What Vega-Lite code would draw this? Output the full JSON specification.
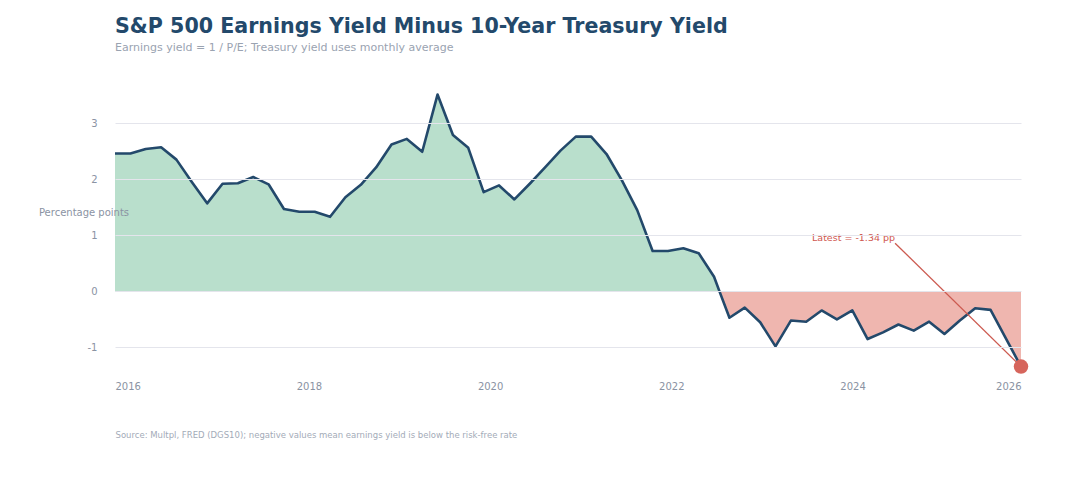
{
  "$schema": "https://vega.github.io/schema/vega-lite/v6.json",
  "width": 906,
  "height": 300,
  "autosize": {"type": "none"},
  "padding": {"left": 115, "top": 80, "right": 60, "bottom": 112},
  "background": "white",
  "title": {
    "text": "S&P 500 Earnings Yield Minus 10-Year Treasury Yield",
    "subtitle": "Earnings yield = 1 / P/E; Treasury yield uses monthly average",
    "anchor": "start",
    "frame": "group",
    "font": "DejaVu Sans",
    "fontSize": 20.6,
    "fontWeight": "bold",
    "color": "#23496b",
    "subtitleFont": "DejaVu Sans",
    "subtitleFontSize": 11,
    "subtitleColor": "#9aa3b1",
    "subtitlePadding": 4,
    "offset": 27
  },
  "datasets": {
    "series": [
      {"year": 2016.000, "spread": 2.46},
      {"year": 2016.170, "spread": 2.46},
      {"year": 2016.339, "spread": 2.54},
      {"year": 2016.509, "spread": 2.57},
      {"year": 2016.678, "spread": 2.35},
      {"year": 2016.848, "spread": 1.95},
      {"year": 2017.017, "spread": 1.57},
      {"year": 2017.187, "spread": 1.92},
      {"year": 2017.356, "spread": 1.93},
      {"year": 2017.526, "spread": 2.04},
      {"year": 2017.695, "spread": 1.91},
      {"year": 2017.865, "spread": 1.47},
      {"year": 2018.034, "spread": 1.42},
      {"year": 2018.204, "spread": 1.42},
      {"year": 2018.374, "spread": 1.33},
      {"year": 2018.543, "spread": 1.68},
      {"year": 2018.713, "spread": 1.90},
      {"year": 2018.882, "spread": 2.21},
      {"year": 2019.052, "spread": 2.62},
      {"year": 2019.221, "spread": 2.72},
      {"year": 2019.391, "spread": 2.49},
      {"year": 2019.560, "spread": 3.51},
      {"year": 2019.730, "spread": 2.79},
      {"year": 2019.899, "spread": 2.56},
      {"year": 2020.069, "spread": 1.77},
      {"year": 2020.239, "spread": 1.89},
      {"year": 2020.408, "spread": 1.64},
      {"year": 2020.578, "spread": 1.92},
      {"year": 2020.747, "spread": 2.21},
      {"year": 2020.917, "spread": 2.51},
      {"year": 2021.086, "spread": 2.76},
      {"year": 2021.256, "spread": 2.76},
      {"year": 2021.425, "spread": 2.45},
      {"year": 2021.595, "spread": 1.98},
      {"year": 2021.764, "spread": 1.45},
      {"year": 2021.934, "spread": 0.72},
      {"year": 2022.103, "spread": 0.72},
      {"year": 2022.273, "spread": 0.77},
      {"year": 2022.443, "spread": 0.68},
      {"year": 2022.612, "spread": 0.26},
      {"year": 2022.672, "spread": 0.00},
      {"year": 2022.782, "spread": -0.47},
      {"year": 2022.951, "spread": -0.29},
      {"year": 2023.121, "spread": -0.55},
      {"year": 2023.290, "spread": -0.98},
      {"year": 2023.460, "spread": -0.52},
      {"year": 2023.629, "spread": -0.54},
      {"year": 2023.799, "spread": -0.34},
      {"year": 2023.968, "spread": -0.50},
      {"year": 2024.138, "spread": -0.34},
      {"year": 2024.307, "spread": -0.85},
      {"year": 2024.477, "spread": -0.73},
      {"year": 2024.647, "spread": -0.59},
      {"year": 2024.816, "spread": -0.70},
      {"year": 2024.986, "spread": -0.54},
      {"year": 2025.155, "spread": -0.76},
      {"year": 2025.325, "spread": -0.52},
      {"year": 2025.494, "spread": -0.30},
      {"year": 2025.664, "spread": -0.33},
      {"year": 2026.000, "spread": -1.34}
    ],
    "latest": [
      {"year": 2026.000, "spread": -1.34, "label": "Latest = -1.34 pp", "textYear": 2024.61, "textSpread": 0.96, "lineYear": 2024.61, "lineSpread": 0.86}
    ]
  },
  "layer": [
    {
      "data": {"name": "series"},
      "transform": [{"filter": "datum.spread >= 0"}],
      "mark": {"type": "area", "color": "#b9dfcc", "opacity": 1},
      "encoding": {
        "x": {"field": "year", "type": "quantitative"},
        "y": {"field": "spread", "type": "quantitative"},
        "y2": {"datum": 0}
      }
    },
    {
      "data": {"name": "series"},
      "transform": [{"filter": "datum.spread <= 0"}],
      "mark": {"type": "area", "color": "#efb6af", "opacity": 1},
      "encoding": {
        "x": {"field": "year", "type": "quantitative"},
        "y": {"field": "spread", "type": "quantitative"},
        "y2": {"datum": 0}
      }
    },
    {
      "data": {"name": "series"},
      "mark": {"type": "line", "color": "#23496b", "strokeWidth": 2.6, "strokeJoin": "round"},
      "encoding": {
        "x": {
          "field": "year",
          "type": "quantitative",
          "scale": {"domain": [2016, 2026], "nice": false, "zero": false},
          "axis": {
            "title": "Source: Multpl, FRED (DGS10); negative values mean earnings yield is below the risk-free rate",
            "titleFont": "DejaVu Sans",
            "titleFontSize": 8.5,
            "titleFontWeight": "normal",
            "titleColor": "#a3abb8",
            "titleAnchor": "start",
            "titleAlign": "left",
            "titlePadding": 39,
            "values": [2016, 2018, 2020, 2022, 2024, 2026],
            "format": "d",
            "grid": false,
            "domain": false,
            "ticks": false,
            "labelFont": "DejaVu Sans",
            "labelFontSize": 10,
            "labelColor": "#8a93a3",
            "labelPadding": 1,
            "labelFlush": false,
            "labelOverlap": false,
            "labelBound": false,
            "labelAlign": {"condition": {"test": "datum.value >= 2026", "value": "right"}, "value": "left"}
          }
        },
        "y": {
          "field": "spread",
          "type": "quantitative",
          "scale": {"domain": [-1.58, 3.77], "nice": false, "zero": false},
          "axis": {
            "title": "Percentage points",
            "titleAngle": 0,
            "titleAlign": "center",
            "titleBaseline": "middle",
            "titleX": -31.5,
            "titleY": 132,
            "titleFont": "DejaVu Sans",
            "titleFontSize": 10,
            "titleFontWeight": "normal",
            "titleColor": "#8a93a3",
            "values": [-1, 0, 1, 2, 3],
            "format": "d",
            "labelExpr": "replace(datum.label, '−', '-')",
            "grid": true,
            "gridColor": "#e4e5ec",
            "gridWidth": 1,
            "domain": false,
            "ticks": false,
            "zindex": 1,
            "labelFont": "DejaVu Sans",
            "labelFontSize": 10,
            "labelColor": "#8a93a3",
            "labelPadding": 18
          }
        }
      }
    },
    {
      "data": {"name": "latest"},
      "mark": {"type": "rule", "color": "#cc5a50", "strokeWidth": 1.3},
      "encoding": {
        "x": {"field": "lineYear", "type": "quantitative"},
        "y": {"field": "lineSpread", "type": "quantitative"},
        "x2": {"field": "year"},
        "y2": {"field": "spread"}
      }
    },
    {
      "data": {"name": "latest"},
      "mark": {"type": "text", "align": "right", "baseline": "middle", "font": "DejaVu Sans", "fontSize": 9.5, "color": "#d0574e"},
      "encoding": {
        "x": {"field": "textYear", "type": "quantitative"},
        "y": {"field": "textSpread", "type": "quantitative"},
        "text": {"field": "label"}
      }
    },
    {
      "data": {"name": "latest"},
      "mark": {"type": "point", "filled": true, "shape": "circle", "size": 210, "color": "#d6655c", "opacity": 1},
      "encoding": {
        "x": {"field": "year", "type": "quantitative"},
        "y": {"field": "spread", "type": "quantitative"}
      }
    }
  ],
  "config": {
    "view": {"stroke": null}
  }
}
